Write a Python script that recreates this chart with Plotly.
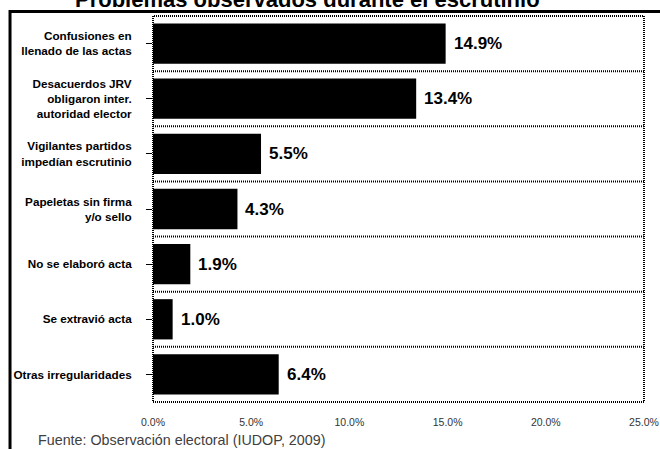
import plotly.graph_objects as go

# Problem categories (top to bottom) and share of observed cases, in percent
categories = [
    "Confusiones en<br>llenado de las actas",
    "Desacuerdos JRV<br>obligaron inter.<br>autoridad elector",
    "Vigilantes partidos<br>impedían escrutinio",
    "Papeletas sin firma<br>y/o sello",
    "No se elaboró acta",
    "Se extravió acta",
    "Otras irregularidades",
]
values = [14.9, 13.4, 5.5, 4.3, 1.9, 1.0, 6.4]
x_ticks = [0, 5, 10, 15, 20, 25]
x_tick_labels = [f"{t:.1f}%" for t in x_ticks]

title_text = "Problemas observados durante el escrutinio"
source_text = "Fuente: Observación electoral (IUDOP, 2009)"

FONT = "Liberation Sans, Arial, sans-serif"
DOTTED = "1px,1px"

fig = go.Figure()
fig.add_trace(go.Bar(
    x=values,
    y=categories,
    orientation="h",
    marker=dict(color="black", line=dict(width=0)),
    width=0.73,
    hoverinfo="skip",
))

# value labels just right of each bar end
for cat, v in zip(categories, values):
    fig.add_annotation(
        x=v, y=cat, xref="x", yref="y",
        text=f"{v:.1f}%", showarrow=False,
        xanchor="left", yanchor="middle", xshift=6,
        font=dict(family=FONT, size=17, color="black", weight="bold"),
    )

shapes = []
# dotted plot-area border
shapes.append(dict(type="rect", xref="paper", yref="paper", x0=0, x1=1, y0=0, y1=1,
                   line=dict(color="black", width=2, dash=DOTTED), layer="above"))
# dotted separators between category bands
for i in range(len(categories) - 1):
    shapes.append(dict(type="line", xref="paper", yref="y", x0=0, x1=1,
                       y0=i + 0.5, y1=i + 0.5,
                       line=dict(color="black", width=2, dash=DOTTED), layer="above"))
# heavy outer frame (left and top edges)
shapes.append(dict(type="rect", xref="paper", yref="paper",
                   x0=-0.2912, x1=1.3, y0=-0.4, y1=1.0117,
                   line=dict(color="black", width=3)))

fig.update_layout(
    width=660, height=449,
    margin=dict(l=153, r=16, t=16, b=47, autoexpand=False),
    paper_bgcolor="white", plot_bgcolor="white",
    showlegend=False,
    bargap=0.27,
    shapes=shapes,
    xaxis=dict(
        range=[0, 25], tickmode="array", tickvals=x_ticks, ticktext=x_tick_labels,
        showgrid=False, zeroline=False, showline=False, ticks="",
        ticklabelstandoff=12, automargin=False,
        tickfont=dict(family=FONT, size=10.5, color="#333333"),
        fixedrange=True,
    ),
    yaxis=dict(
        categoryorder="array", categoryarray=categories,
        range=[len(categories) - 0.5, -0.5],
        showgrid=False, zeroline=False, showline=False,
        ticks="outside", ticklen=6, tickwidth=1, tickcolor="black",
        ticklabelstandoff=12, automargin=False,
        tickfont=dict(family=FONT, size=11.7, color="black", weight="bold"),
        fixedrange=True,
    ),
)

fig.add_annotation(
    x=0.3147, y=1.044, xref="paper", yref="paper",
    text=title_text, showarrow=False, xanchor="center", yanchor="middle",
    font=dict(family=FONT, size=22, color="black", weight="bold"),
)
fig.add_annotation(
    x=-0.2383, y=-0.099, xref="paper", yref="paper",
    text=source_text, showarrow=False, xanchor="left", yanchor="middle",
    font=dict(family=FONT, size=14.3, color="#404040"),
)

fig.write_html("out.html")
